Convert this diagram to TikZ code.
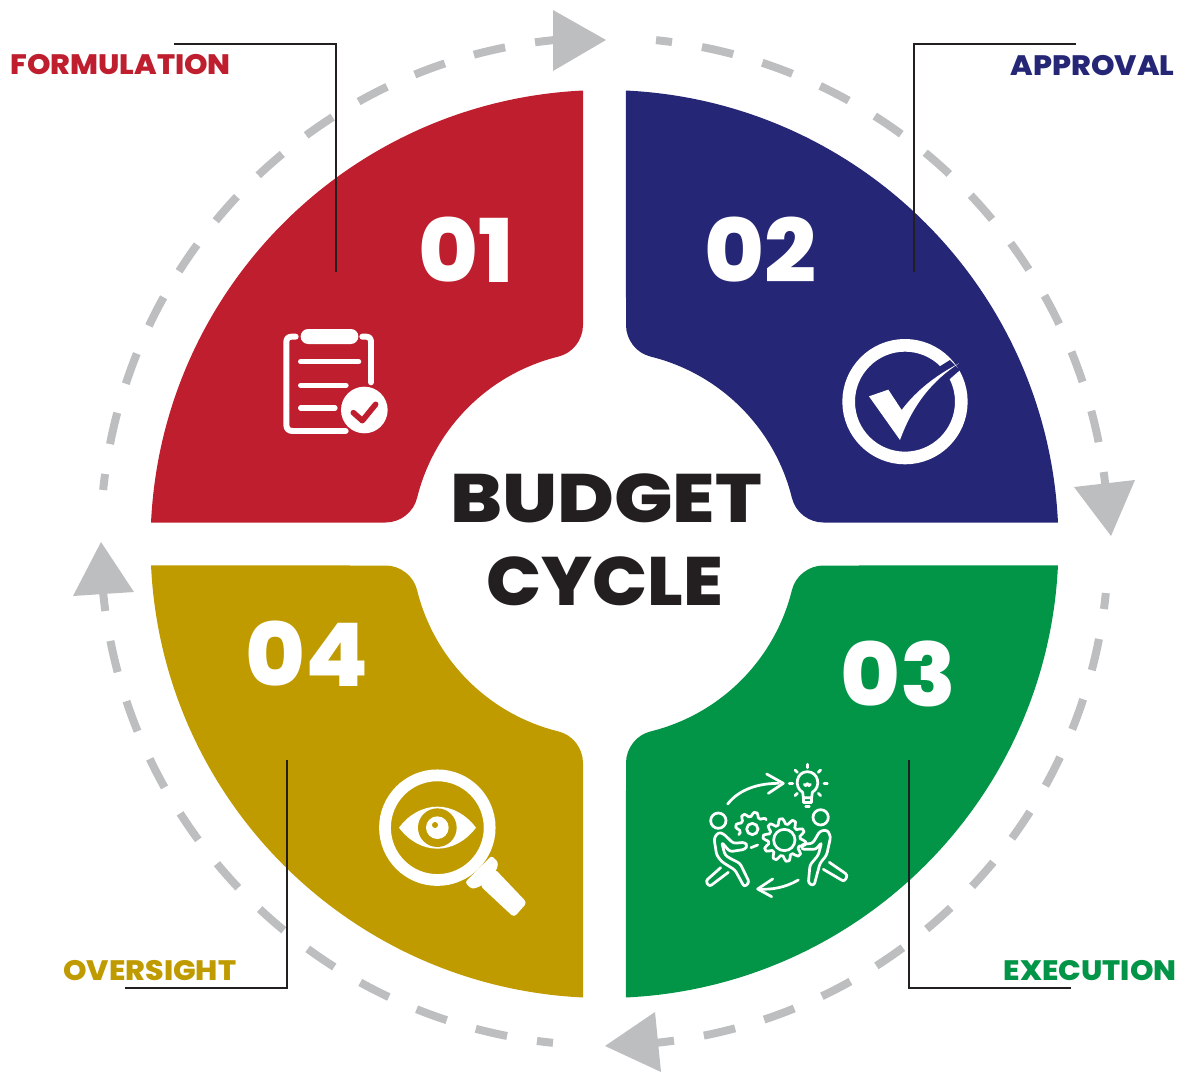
\documentclass[tikz,border=0pt]{standalone}
\usepackage{fontspec}
\setmainfont{Poppins}
\newfontfamily\heavyfont{Poppins ExtraBold}
\newfontfamily\labelfont[FakeStretch=1.065]{Poppins ExtraBold}
\newfontfamily\numfont[FakeStretch=1.04]{Poppins ExtraBold}
\newfontfamily\budgetfont[FakeStretch=1.13]{Poppins ExtraBold}
\newfontfamily\cyclefont[FakeStretch=1.06]{Poppins ExtraBold}
\definecolor{budgetred}{HTML}{BE1E2D}
\definecolor{budgetblue}{HTML}{252675}
\definecolor{budgetgreen}{HTML}{039547}
\definecolor{budgetgold}{HTML}{BF9B00}
\definecolor{ringgray}{HTML}{BCBEC0}
\definecolor{inkdark}{HTML}{231F20}
\tikzset{
  ringdash/.style={ringgray,line width=4.55pt,dash pattern=on 18.26pt off 17.25pt},
  ringstub/.style={ringgray,line width=4.55pt},
  leader/.style={inkdark,line width=1.3pt},
  stagelabel/.style={font=\labelfont\fontsize{16}{16}\selectfont,inner sep=0pt},
  stagenum/.style={white,font=\numfont\fontsize{50}{50}\selectfont,anchor=base,inner sep=0pt},
  titletext/.style={inkdark,anchor=base,inner sep=0pt},
  iconzoom/.style={x=0.0066667cm,y=-0.0066667cm},
  iconline/.style={white,line width=1.55pt,line cap=round,line join=round},
}
\begin{document}
\begin{tikzpicture}[x=0.02cm,y=-0.02cm]
  \useasboundingbox (0,0) rectangle (1181,1072);

  % the four sectors
  \foreach \sx/\sy/\col in {1/1/budgetred,-1/1/budgetblue,-1/-1/budgetgreen,1/-1/budgetgold} {
    \begin{scope}[shift={(604.5,544)},xscale=\sx,yscale=\sy]
      \fill[\col] (267.29:454) -- (-21.5,-219)
        .. controls (-21.5,-204) and (-32,-190.6) .. (256.04:193)
        arc[start angle=256.04,end angle=193.96,radius=193]
        .. controls (-190.6,-32) and (-204,-21.5) .. (-219,-21.5)
        -- (182.71:454) arc[start angle=182.71,end angle=267.29,radius=454] -- cycle;
    \end{scope}
  }

  % dashed ring
  \foreach \a in {0,90,180,270} {
    \begin{scope}[shift={(604.5,541.5)},rotate=\a]
      \draw[ringstub] (-84.13:504) arc[start angle=-84.13,end angle=-82.3,radius=504];
      \draw[ringdash] (-78.85:504) arc[start angle=-78.85,end angle=-4.2,radius=504];
    \end{scope}
  }
  \fill[ringgray] (606,40) -- (553,10) -- (553,71) -- cycle;
  \fill[ringgray] (1111,536) -- (1074,487) -- (1135,480) -- cycle;
  \fill[ringgray] (605,1046) -- (655,1012) -- (661,1072) -- cycle;
  \fill[ringgray] (101,542) -- (73,596) -- (134,592) -- cycle;

  % leaders
  \coordinate (formA) at (174,44);
  \coordinate (formB) at (336,272);
  \coordinate (apprA) at (1076,44);
  \coordinate (apprB) at (914,272);
  \coordinate (execA) at (1071,988);
  \coordinate (execB) at (909,760);
  \coordinate (overA) at (125,988);
  \coordinate (overB) at (287,760);
  \draw[leader] (formA) -| (formB);
  \draw[leader] (apprA) -| (apprB);
  \draw[leader] (execA) -| (execB);
  \draw[leader] (overA) -| (overB);

  \node[stagelabel,anchor=base west,budgetred] (form) at (10,74) {FORMULATION};
  \node[stagelabel,anchor=base east,budgetblue] (appr) at (1175,75) {APPROVAL};
  \node[stagelabel,anchor=base east,budgetgreen] (exec) at (1177,980) {EXECUTION};
  \node[stagelabel,anchor=base west,budgetgold] (over) at (63,980) {OVERSIGHT};

  \node[stagenum] (num1) at (466,282) {01};
  \node[stagenum] (num2) at (760,282) {02};
  \node[stagenum] (num3) at (898,706) {03};
  \node[stagenum] (num4) at (307,686) {04};

  \node[titletext,font=\budgetfont\fontsize{39}{39}\selectfont] (title1) at (606,522) {BUDGET};
  \node[titletext,font=\cyclefont\fontsize{39}{39}\selectfont] (title2) at (605,605) {CYCLE};

  % clipboard
  \begin{scope}[shift={(260,310)},iconzoom]
    \draw[iconline,line width=3.4pt] (107,80) -- (95,80) .. controls (85,80) and (79,86) .. (79,96)
      -- (79,345) .. controls (79,357) and (87,363) .. (98,363) -- (257,363);
    \draw[iconline,line width=3.4pt] (307,80) -- (318,80) .. controls (328,80) and (333,86) .. (333,96) -- (333,217);
    \fill[white,rounded corners=4.2pt] (122,57) rectangle (295,102);
    \draw[iconline,line width=3pt] (122,155) -- (296,155);
    \draw[iconline,line width=3pt] (122,226) -- (258,226);
    \draw[iconline,line width=3pt] (122,294) -- (225,294);
    \fill[white] (313,300) circle[radius=70];
    \draw[budgetred,line width=3.2pt,line cap=round,line join=round] (280,308) -- (307,332) -- (347,283);
  \end{scope}

  % tick in a ring
  \begin{scope}[shift={(820,320)},iconzoom]
    \draw[white,line width=7.2pt] (255,245) circle[radius=169];
    \fill[budgetblue] (358,140) -- (390,120) -- (420,150) -- (388,178) -- cycle;
    \fill[white] (147,229) -- (205,209) -- (245,270)
      .. controls (290,210) and (350,165) .. (417,130)
      .. controls (340,180) and (280,250) .. (240,360) -- cycle;
  \end{scope}

  % people, gears, lamp
  \begin{scope}[shift={(690,755)},iconzoom]
    \draw[iconline] (113,147) .. controls (150,100) and (210,85) .. (265,85);
    \draw[iconline] (230,57) -- (280,85) -- (235,115);
    \draw[iconline] (325,375) .. controls (285,398) and (245,405) .. (205,402);
    \draw[iconline] (248,372) -- (203,402) -- (245,425);
    \draw[iconline] (340,128) -- (338,112) .. controls (310,95) and (320,50) .. (352,50)
      .. controls (385,50) and (395,95) .. (367,112) -- (365,128) -- cycle;
    \draw[iconline] (340,128) -- (340,143) -- (365,143) -- (365,128);
    \draw[iconline] (347,155) -- (358,155);
    \draw[iconline] (343,88) -- (347,92) -- (352,86) -- (357,92) -- (361,88);
    \foreach \ax/\ay/\bx/\by in {352/28/352/38,315/45/322/52,392/45/385/52,298/85/308/85,402/85/412/85,315/122/322/115,392/122/385/115} {
      \draw[iconline] (\ax,\ay) -- (\bx,\by);
    }
    \draw[iconline] (85,197) circle[radius=23];
    \draw[iconline,rounded corners=1.5pt] (165,262) -- (130,265) -- (100,236) -- (85,232) -- (72,250) -- (80,300) -- (95,320)
      -- (135,345) -- (163,396) -- (178,382) -- (150,325) -- (120,310) -- (105,300) -- (95,262) -- (120,290) -- (165,283) -- (172,272) -- cycle;
    \draw[iconline,rounded corners=1.5pt] (92,338) -- (47,378) -- (58,395) -- (115,352);
    \draw[iconline] (392,187) circle[radius=23];
    \draw[iconline,rounded corners=1.5pt] (335,268) -- (368,265) -- (390,228) -- (412,225) -- (422,245) -- (410,300)
      -- (390,325) -- (372,392) -- (355,385) -- (360,330) -- (385,300) -- (395,262) -- (378,283) -- (335,283) -- cycle;
    \draw[iconline,rounded corners=1.5pt] (418,322) -- (473,360) -- (463,380) -- (400,343);
    \draw[iconline] (187,222) circle[radius=17];
    \draw[iconline] plot[domain=157.5:326.25,samples=31]
      ({187+(44+6*min(1,max(-1,3*sin(8*\x))))*cos(\x)},{222+(44+6*min(1,max(-1,3*sin(8*\x))))*sin(\x)});
    \draw[iconline] (183,278) -- (203,270);
    \draw[iconline] (283,255) circle[radius=32];
    \draw[iconline] plot[domain=0:360,samples=81]
      ({283+(56+8*min(1,max(-1,3*sin(10*\x))))*cos(\x)},{255+(56+8*min(1,max(-1,3*sin(10*\x))))*sin(\x)});
  \end{scope}

  % magnifier with eye
  \begin{scope}[shift={(365,755)},iconzoom]
    \draw[white,line width=6.7pt] (217,218) circle[radius=157];
    \fill[white,rounded corners=2pt] (390,342) -- (486,443) -- (447,487) -- (345,392) -- cycle;
    \fill[white,rounded corners=1.5pt] (380,302) -- (400,322) -- (395,345) -- (345,395) -- (320,402) -- (300,382) -- cycle;
  \end{scope}
  \begin{scope}[shift={(395,790)},iconzoom]
    \fill[white] (12,113) .. controls (75,29) and (179,29) .. (243,113)
      .. controls (179,197) and (75,197) .. (12,113) -- cycle;
    \fill[budgetgold] (127,113) circle[radius=58];
    \fill[white] (127,113) circle[radius=34];
    \fill[budgetgold] (120,105) circle[radius=9];
  \end{scope}
\end{tikzpicture}
\end{document}
